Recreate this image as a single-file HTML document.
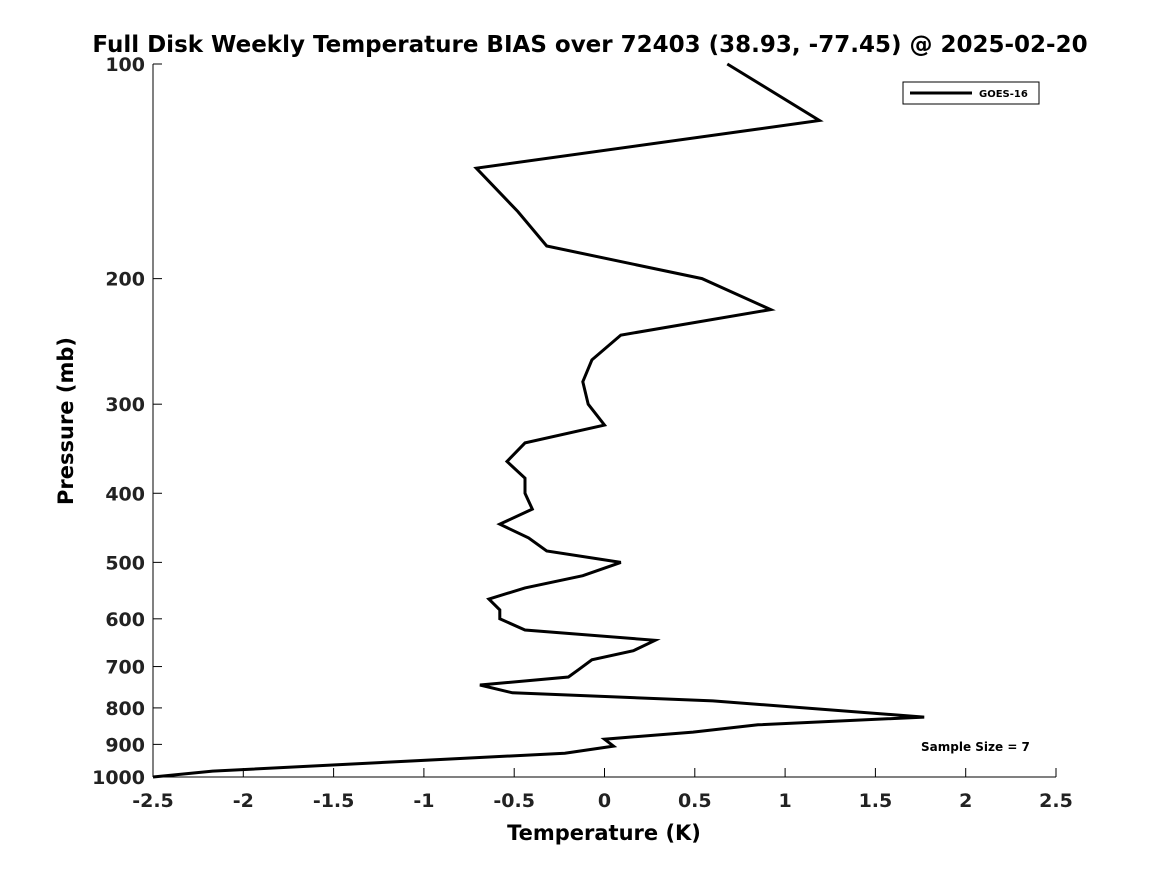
<!DOCTYPE html>
<html><head><meta charset="utf-8"><style>
html,body{margin:0;padding:0;background:#fff;}
svg{display:block;font-family:"Liberation Sans","DejaVu Sans",sans-serif;}
</style></head><body>
<svg id="chart" width="1167" height="875" viewBox="0 0 1167 875">
<rect width="1167" height="875" fill="#fff"/>
<text x="590" y="52" text-anchor="middle" font-size="23" font-weight="bold" font-family="DejaVu Sans, sans-serif">Full Disk Weekly Temperature BIAS over 72403 (38.93, -77.45) @ 2025-02-20</text>
<g id="axes"></g>
<g id="series"></g>
<g>
<rect x="903" y="82" width="136" height="22" fill="#fff" stroke="#000" stroke-width="1"/>
<line x1="910" y1="93" x2="972" y2="93" stroke="#000" stroke-width="3"/>
<text x="979" y="97" font-size="10" font-weight="bold" font-family="DejaVu Sans, sans-serif">GOES-16</text>
</g>
<text x="921" y="751" font-size="12" font-weight="bold" font-family="DejaVu Sans, sans-serif">Sample Size = 7</text>
<text x="604" y="840" text-anchor="middle" font-size="21" font-weight="bold" font-family="DejaVu Sans, sans-serif">Temperature (K)</text>
<text transform="translate(73,421) rotate(-90)" text-anchor="middle" font-size="21" font-weight="bold" font-family="DejaVu Sans, sans-serif">Pressure (mb)</text>
</svg>
<script>
const pressures=[100,120,140,161,180,200,221,240,260,279,300,321,340,361,381,400,421,442,462,482,500,522,543,563,583,600,622,643,665,685,706,724,743,762,782,824,845,865,885,905,926,981,1000];
const temps=[0.68,1.19,-0.71,-0.48,-0.32,0.54,0.92,0.09,-0.07,-0.12,-0.09,0,-0.44,-0.54,-0.44,-0.44,-0.40,-0.58,-0.42,-0.32,0.09,-0.12,-0.44,-0.64,-0.58,-0.58,-0.44,0.28,0.16,-0.07,-0.14,-0.20,-0.69,-0.51,0.60,1.77,0.85,0.49,0,0.05,-0.22,-2.17,-2.5];
const xTicks=[-2.5,-2,-1.5,-1,-0.5,0,0.5,1,1.5,2,2.5];
const xTickLabels=["-2.5","-2","-1.5","-1","-0.5","0","0.5","1","1.5","2","2.5"];
const yTicks=[100,200,300,400,500,600,700,800,900,1000];
const yTickLabels=["100","200","300","400","500","600","700","800","900","1000"];
const X0=153,X1=1056,Y0=64,Y1=777;
function xs(v){return X0+(v-(-2.5))/5*(X1-X0);}
function ys(p){return Y0+(Math.log10(p)-2)*(Y1-Y0);}
const NS="http://www.w3.org/2000/svg";
const axes=document.getElementById('axes');
function mk(tag,attrs,parent){const e=document.createElementNS(NS,tag);for(const k in attrs)e.setAttribute(k,attrs[k]);parent.appendChild(e);return e;}
let l=mk('line',{x1:X0,y1:Y0,x2:X0,y2:Y1,stroke:'#000','stroke-width':1},axes);


l=mk('line',{x1:X0,y1:Y1,x2:X1,y2:Y1,stroke:'#000','stroke-width':1},axes);


xTicks.forEach((v,i)=>{
 const x=xs(v);
 const t=mk('line',{x1:x,y1:Y1,x2:x,y2:Y1-9,stroke:'#000'},axes);
 
 
 const tx=mk('text',{x:x,y:Y1+30,'text-anchor':'middle','font-size':19,'font-weight':'bold','font-family':'DejaVu Sans, sans-serif',fill:'#222'},axes);
 tx.textContent=xTickLabels[i];
 
 
});
yTicks.forEach((p,i)=>{
 const y=ys(p);
 const t=mk('line',{x1:X0,y1:y,x2:X0+9,y2:y,stroke:'#000'},axes);
 
 
 const tx=mk('text',{x:X0-8,y:y+7,'text-anchor':'end','font-size':19,'font-weight':'bold','font-family':'DejaVu Sans, sans-serif',fill:'#222'},axes);
 tx.textContent=yTickLabels[i];
 
 
});
const series=document.getElementById('series');
const pts=temps.map((t,i)=>xs(t).toFixed(1)+','+ys(pressures[i]).toFixed(1)).join(' ');
const pl=mk('polyline',{points:pts,fill:'none',stroke:'#000','stroke-width':3,'stroke-linejoin':'miter'},series);


</script>
</body></html>
